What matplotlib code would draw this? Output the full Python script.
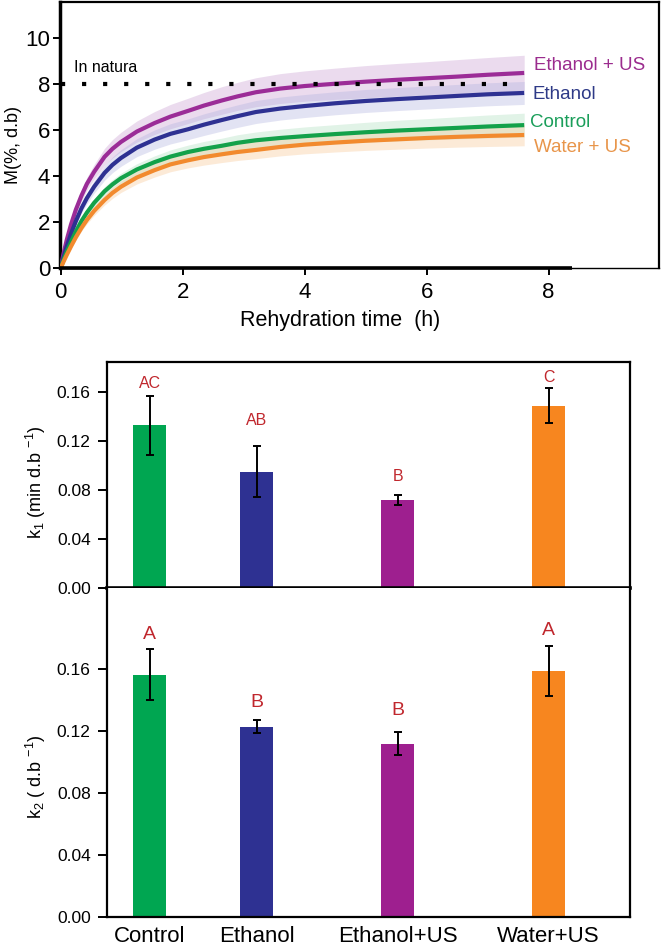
import matplotlib
matplotlib.use("Agg")
import matplotlib.pyplot as plt
import numpy as np

plt.rcParams['font.family'] = ['Liberation Sans', 'DejaVu Sans']
plt.rcParams['mathtext.default'] = 'regular'

# ---------------- data: rehydration curves ----------------
times = [0, 0.05, 0.1, 0.17, 0.25, 0.34, 0.43, 0.55, 0.72, 0.85, 0.99, 1.25, 1.54, 1.8,
         2.09, 2.35, 2.64, 2.9, 3.2, 3.6, 4, 4.5, 5, 5.5, 6, 6.5, 7, 7.6]
m_ethanol_us = [0, 0.66, 1.23, 1.9, 2.55, 3.15, 3.67, 4.2, 4.85, 5.2, 5.5, 5.95, 6.32, 6.6,
                6.85, 7.08, 7.3, 7.48, 7.66, 7.82, 7.93, 8.03, 8.12, 8.2, 8.27, 8.34, 8.42, 8.5]
m_ethanol = [0, 0.5, 0.95, 1.5, 2.05, 2.6, 3.05, 3.55, 4.15, 4.5, 4.8, 5.25, 5.6, 5.85,
             6.05, 6.25, 6.45, 6.62, 6.8, 6.95, 7.06, 7.18, 7.28, 7.36, 7.43, 7.5, 7.57, 7.63]
m_control = [0, 0.38, 0.72, 1.15, 1.6, 2.05, 2.42, 2.85, 3.35, 3.65, 3.92, 4.3, 4.62, 4.86,
             5.06, 5.2, 5.33, 5.46, 5.57, 5.67, 5.75, 5.84, 5.92, 5.99, 6.05, 6.11, 6.17, 6.23]
m_water_us = [0, 0.3, 0.58, 0.95, 1.35, 1.75, 2.1, 2.5, 2.97, 3.28, 3.55, 3.95, 4.27, 4.52,
              4.7, 4.84, 4.96, 5.06, 5.15, 5.28, 5.38, 5.47, 5.55, 5.61, 5.67, 5.72, 5.76, 5.8]
sd_ethanol_us = [0, .05, .1, .14, .19, .24, .28, .32, .37, .4, .42, .46, .5, .53,
                 .55, .57, .6, .61, .63, .65, .66, .68, .7, .71, .72, .74, .75, .77]
sd_ethanol = [0, .04, .08, .12, .16, .2, .24, .28, .32, .34, .36, .39, .42, .44,
              .45, .47, .48, .49, .5, .5, .5, .5, .5, .5, .5, .5, .5, .5]
sd_control = [0, .03, .05, .08, .1, .12, .14, .17, .2, .21, .22, .25, .27, .29,
              .3, .32, .33, .35, .36, .38, .4, .41, .43, .45, .46, .48, .5, .52]
sd_water_us = [0, .03, .06, .09, .12, .14, .17, .2, .22, .24, .25, .28, .3, .32,
               .33, .35, .36, .37, .38, .39, .4, .41, .42, .43, .44, .45, .46, .47]
in_natura = 8.0
curve_names = ["Ethanol + US", "Ethanol", "Control", "Water + US"]

# ---------------- data: kinetic constants ----------------
categories = ["Control", "Ethanol", "Ethanol+US", "Water+US"]
k1 = [0.133, 0.095, 0.072, 0.149]
k1_err = [0.024, 0.021, 0.004, 0.0145]
k1_letters = ["AC", "AB", "B", "C"]
k2 = [0.1565, 0.123, 0.112, 0.159]
k2_err = [0.0166, 0.0045, 0.0077, 0.016]
k2_letters = ["A", "B", "B", "A"]

# ---------------- styles / layout ----------------
line_cols = ['#9B2C97', '#2E3192', '#13A14A', '#F28A2E']
band_cols = ['#C79AD0', '#AEB0DE', '#A9DDBB', '#F7C48F']
label_cols = ['#9B2C8E', '#2E3A87', '#1A9E5A', '#E8954A']
label_y = [8.84, 7.57, 6.36, 5.25]
label_x = [7.76, 7.73, 7.69, 7.76]
bar_cols = ['#00A651', '#2E3192', '#9E1F8F', '#F7861F']
bar_pos = [0.43, 1.50, 2.91, 4.42]
letter_col = '#C0272D'

W, H = 661, 948
fig = plt.figure(figsize=(W / 100, H / 100), dpi=100)

# ---------- top panel ----------
ax = fig.add_axes([60 / W, 1 - 268.3 / H, 599 / W, 266.6 / H])
series = [m_ethanol_us, m_ethanol, m_control, m_water_us]
sds = [sd_ethanol_us, sd_ethanol, sd_control, sd_water_us]
t = np.array(times)
for m, s, bc in zip(series, sds, band_cols):
    m = np.array(m); s = np.array(s)
    ax.fill_between(t, m - s, m + s, color=bc, alpha=0.35, lw=0, zorder=1)
for m, lc in zip(series, line_cols):
    ax.plot(t, m, color=lc, lw=3.0, zorder=3, solid_capstyle='butt',
            solid_joinstyle='round')
ax.plot([0, 7.4], [in_natura, in_natura], color='black', lw=3,
        linestyle=(0, (1, 4.05)), dash_capstyle='butt', zorder=4)
ax.text(0.22, 8.72, "In natura", fontsize=11.5, va='center', ha='left')
for name, c, yy, xx in zip(curve_names, label_cols, label_y, label_x):
    ax.text(xx, yy, name, color=c, fontsize=13.5, va='center', ha='left')

ax.set_xlim(-0.01, 9.81)
ax.set_ylim(0, 11.6)
ax.set_xticks([0, 2, 4, 6, 8])
ax.set_yticks([0, 2, 4, 6, 8, 10])
ax.tick_params(axis='both', labelsize=16, length=5, width=1.4, direction='out')
ax.tick_params(axis='x', pad=5)
ax.tick_params(axis='y', pad=2)
for sp in ['top', 'right']:
    ax.spines[sp].set_linewidth(1.6)
ax.spines['left'].set_linewidth(2.5)
ax.spines['bottom'].set_linewidth(1.0)
ax.plot([-0.01, 8.39], [0, 0], color='black', lw=2.6, clip_on=False, zorder=5,
        solid_capstyle='butt')
ax.set_xlabel("Rehydration time  (h)", fontsize=15.5)
ax.xaxis.set_label_coords(0.467, -0.155)
fig.text(14 / W, 1 - 145 / H, "M(%, d.b)", rotation=90, fontsize=13,
         ha='center', va='center')

# ---------- k1 panel ----------
ax1 = fig.add_axes([106.7 / W, 1 - 587.7 / H, 523 / W, 226 / H])
ax1.bar(bar_pos, k1, width=0.33, color=bar_cols, yerr=k1_err, capsize=3,
        error_kw=dict(elinewidth=1.4, capthick=1.4, ecolor='black'), zorder=2)
k1_ly = [0.1673, 0.1372, 0.0908, 0.1722]
for xp, yy, lt in zip(bar_pos, k1_ly, k1_letters):
    ax1.text(xp, yy, lt, color=letter_col, fontsize=11.5, ha='center', va='center')
ax1.set_xlim(0, 5.23)
ax1.set_ylim(0, 0.185)
ax1.set_xticks([])
ax1.set_yticks([0.0, 0.04, 0.08, 0.12, 0.16])
ax1.set_yticklabels(["0.00", "0.04", "0.08", "0.12", "0.16"])
ax1.tick_params(axis='y', labelsize=12.5, length=6.5, width=1.4, pad=5)
for sp in ['top', 'right', 'left']:
    ax1.spines[sp].set_linewidth(1.6)
ax1.spines['bottom'].set_linewidth(2.6)
fig.text(36 / W, 1 - 482 / H, r"k$_1$ (min d.b $^{-1}$)", rotation=90,
         fontsize=13, ha='center', va='center')

# ---------- k2 panel ----------
ax2 = fig.add_axes([106.7 / W, 1 - 916.7 / H, 523 / W, 329 / H])
ax2.bar(bar_pos, k2, width=0.33, color=bar_cols, yerr=k2_err, capsize=3,
        error_kw=dict(elinewidth=1.4, capthick=1.4, ecolor='black'), zorder=2)
k2_ly = [0.1827, 0.1384, 0.1331, 0.185]
for xp, yy, lt in zip(bar_pos, k2_ly, k2_letters):
    ax2.text(xp, yy, lt, color=letter_col, fontsize=14, ha='center', va='center')
ax2.set_xlim(0, 5.23)
ax2.set_ylim(0, 0.2128)
ax2.set_xticks(bar_pos)
ax2.set_xticklabels(categories)
ax2.tick_params(axis='x', labelsize=16, length=0, pad=7)
ax2.set_yticks([0.0, 0.04, 0.08, 0.12, 0.16])
ax2.set_yticklabels(["0.00", "0.04", "0.08", "0.12", "0.16"])
ax2.tick_params(axis='y', labelsize=12.5, length=6.5, width=1.4, pad=5)
for sp in ['top', 'right', 'left', 'bottom']:
    ax2.spines[sp].set_linewidth(1.6)
ax2.spines['top'].set_visible(False)
fig.text(36 / W, 1 - 777 / H, r"k$_2$ ( d.b $^{-1}$)", rotation=90,
         fontsize=13, ha='center', va='center')

fig.savefig("out.png", dpi=100)
